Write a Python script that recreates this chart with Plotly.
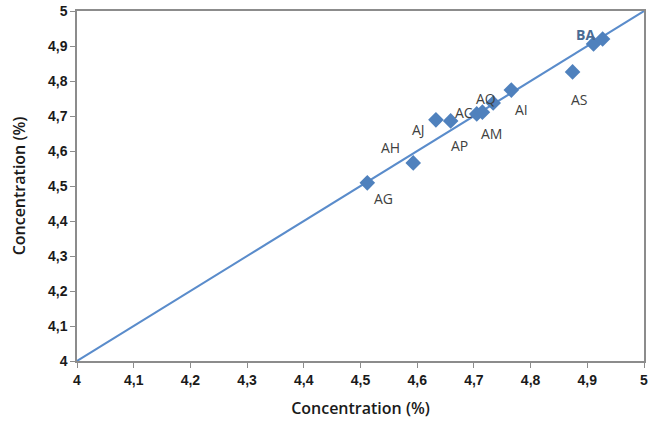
import plotly.graph_objects as go

# Data
labels = ["AG", "AH", "AJ", "AC", "AP", "AM", "AQ", "AI", "AS", "BA", ""]
x_vals = [4.512, 4.593, 4.633, 4.659, 4.705, 4.715, 4.734, 4.766, 4.874, 4.911, 4.927]
y_vals = [4.509, 4.566, 4.689, 4.686, 4.706, 4.711, 4.737, 4.774, 4.826, 4.906, 4.920]
# label offsets in pixels (text placement only)
label_dx = [16, -23, -17, 13, -17, 9, -7, 10, 7, -8, 0]
label_dy = [16, -15, 10, -8, 32, 21, -5, 19, 28, -9, 0]

line_x = [4, 5]
line_y = [4, 5]

tick_vals = [4.0, 4.1, 4.2, 4.3, 4.4, 4.5, 4.6, 4.7, 4.8, 4.9, 5.0]
tick_text = ["4", "4,1", "4,2", "4,3", "4,4", "4,5", "4,6", "4,7", "4,8", "4,9", "5"]

blue = "#5a8ccb"
marker_blue = "#4f81bd"
font_fam = "Liberation Sans, Arial"
title_fam = "Open Sans, Liberation Sans"

fig = go.Figure()
fig.add_trace(go.Scatter(x=line_x, y=line_y, mode="lines",
                         line=dict(color=blue, width=2), hoverinfo="skip",
                         showlegend=False, cliponaxis=False))
fig.add_trace(go.Scatter(x=x_vals, y=y_vals, mode="markers",
                         marker=dict(symbol="diamond", size=12, color=marker_blue),
                         showlegend=False))

for lab, xv, yv, dx, dy in zip(labels, x_vals, y_vals, label_dx, label_dy):
    if not lab:
        continue
    is_ba = lab == "BA"
    fig.add_annotation(x=xv, y=yv, text=("<b>%s</b>" % lab) if is_ba else lab,
                       showarrow=True, arrowcolor="rgba(0,0,0,0)", arrowwidth=0.1,
                       ax=dx, ay=dy, xanchor="center", yanchor="middle",
                       font=dict(family=title_fam, size=14,
                                 color="#4a6b94" if is_ba else "#404040"))

axis_common = dict(
    range=[4, 5], tickvals=tick_vals, ticktext=tick_text,
    showgrid=False, zeroline=False, automargin=False,
    showline=True, linecolor="#8c8c8c", linewidth=1.5, mirror=True,
    ticks="outside", ticklen=5, tickcolor="#8c8c8c",
    ticklabeloverflow="allow",
    tickfont=dict(family=font_fam, size=14, color="#1a1a1a", weight="bold"),
)

fig.update_layout(
    width=649, height=424,
    margin=dict(l=77, r=5, t=11, b=63),
    paper_bgcolor="white", plot_bgcolor="white",
    xaxis=dict(**axis_common,
               title=dict(text="Concentration (%)", standoff=16,
                          font=dict(family=title_fam, size=16, color="#1a1a1a", weight=600))),
    yaxis=dict(**axis_common,
               title=dict(text="Concentration (%)", standoff=18,
                          font=dict(family=title_fam, size=16, color="#1a1a1a", weight=600))),
)

fig.write_html("out.html", config={"displayModeBar": False},
               post_script="document.body.style.margin='0px';")
